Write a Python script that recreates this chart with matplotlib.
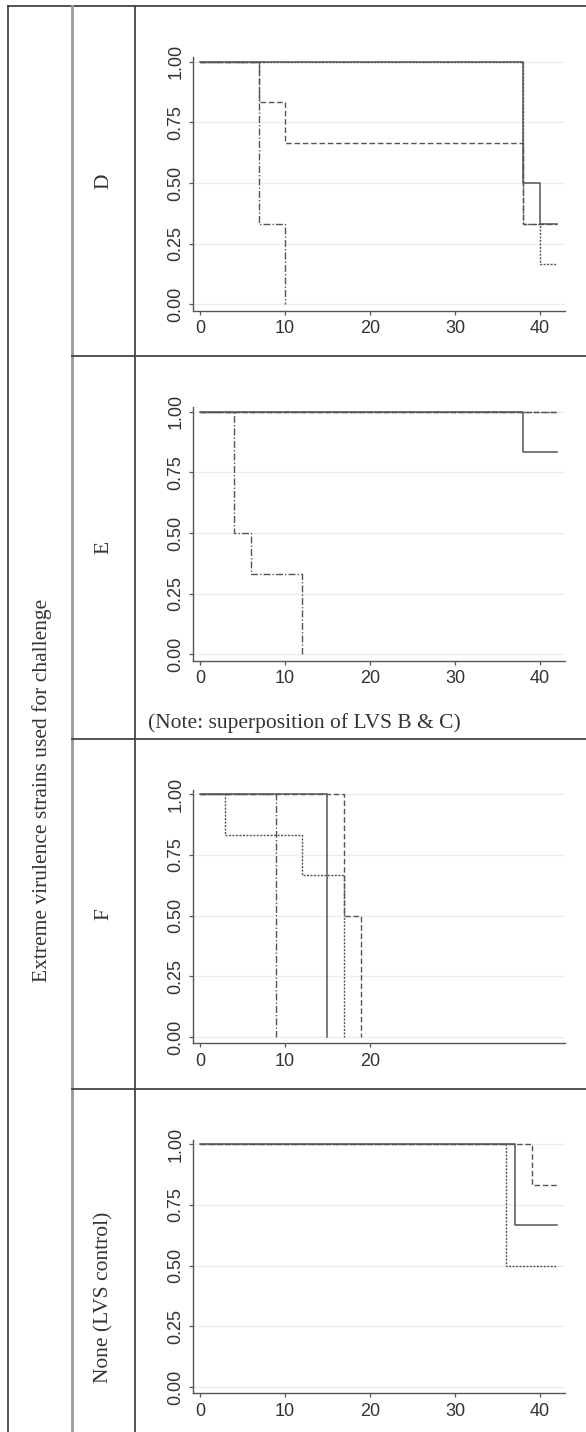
import matplotlib
matplotlib.use("Agg")
import matplotlib.pyplot as plt

# survival data per challenge strain (time in days, survival proportion)
panels = ["D", "E", "F", "None (LVS control)"]

# LVS A (solid)
a_times = [[0, 38, 40, 42], [0, 38, 42], [0, 15], [0, 37, 42]]
a_surv = [[1, 0.5, 0.333, 0.333], [1, 0.833, 0.833], [1, 0], [1, 0.667, 0.667]]

# LVS B (dashed)
b_times = [[0, 7, 10, 38, 42], [0, 42], [0, 17, 19], [0, 39, 42]]
b_surv = [[1, 0.833, 0.667, 0.333, 0.333], [1, 1], [1, 0.5, 0], [1, 0.833, 0.833]]

# LVS C (dotted)
c_times = [[0, 38, 40, 42], [0, 42], [0, 3, 12, 17], [0, 36, 42]]
c_surv = [[1, 0.333, 0.167, 0.167], [1, 1], [1, 0.833, 0.667, 0], [1, 0.5, 0.5]]

# unvaccinated control (dash-dot), not present in the last row
u_times = [[0, 7, 10], [0, 4, 6, 12], [0, 9], None]
u_surv = [[1, 0.333, 0], [1, 0.5, 0.333, 0], [1, 0], None]

x_ticks = [[0, 10, 20, 30, 40], [0, 10, 20, 30, 40], [0, 10, 20], [0, 10, 20, 30, 40]]
y_ticks = [0, 0.25, 0.5, 0.75, 1.0]

W, H = 586, 1432
fig = plt.figure(figsize=(W / 100, H / 100), dpi=100)
fig.patch.set_facecolor("white")

# overlay in pixel coordinates for the table frame and labels
bg = fig.add_axes([0, 0, 1, 1])
bg.set_xlim(0, W)
bg.set_ylim(H, 0)
bg.axis("off")

line_col = "#444444"
bg.plot([8, 8], [6, H], color=line_col, lw=1.3)
bg.plot([8, W], [6, 6], color=line_col, lw=1.3)
bg.plot([72, 72], [6, H], color="#9a9a9a", lw=2.0)
bg.plot([135, 135], [6, H], color=line_col, lw=1.3)
for yy in [356, 739, 1089]:
    bg.plot([72, W], [yy, yy], color=line_col, lw=1.3)

serif = dict(family="Liberation Serif", size=15.5, color="#333333")
bg.text(42, 790, "Extreme virulence strains used for challenge", rotation=90,
        ha="center", va="center", **serif)
label_y = [181, 547, 914, 1297]
for lab, yy in zip(panels, label_y):
    bg.text(104, yy, lab, rotation=90, ha="center", va="center", **serif)
bg.text(148, 723, "(Note: superposition of LVS B & C)", ha="left", va="center", **serif)

# plot axes positions (top pixel of each axes)
tops = [57, 407, 789.5, 1139.5]
ax_h = 253.5
ax_left, ax_w = 193, 372

curve_col = "#555555"
for i in range(4):
    ax = fig.add_axes([ax_left / W, 1 - (tops[i] + ax_h) / H, ax_w / W, ax_h / H])
    ax.set_xlim(-0.82, 42.94)
    ax.set_ylim(-0.025, 1.02)
    for s in ["top", "right"]:
        ax.spines[s].set_visible(False)
    for s in ["left", "bottom"]:
        ax.spines[s].set_color("#555555")
        ax.spines[s].set_linewidth(1.0)
    ax.set_yticks(y_ticks)
    ax.set_yticklabels(["0.00", "0.25", "0.50", "0.75", "1.00"], rotation=90, va="center")
    ax.set_xticks(x_ticks[i])
    ax.tick_params(length=3, width=0.9, color="#555555", labelsize=13,
                   labelcolor="#333333")
    ax.tick_params(axis="x", pad=4)
    ax.tick_params(axis="y", pad=3)
    for t in ax.get_xticklabels() + ax.get_yticklabels():
        t.set_family("Liberation Sans")
    for g in y_ticks:
        ax.axhline(g, color="#e9efef", lw=0.9, zorder=0)

    if u_times[i] is not None:
        ax.step(u_times[i], u_surv[i], where="post", color=curve_col, lw=1.0,
                linestyle=(0, (5, 1.5, 1, 1.5)))
    ax.step(c_times[i], c_surv[i], where="post", color=curve_col, lw=1.0,
            linestyle=(0, (1.5, 1)))
    ax.step(b_times[i], b_surv[i], where="post", color=curve_col, lw=1.0,
            linestyle=(0, (4, 2)))
    ax.step(a_times[i], a_surv[i], where="post", color=curve_col, lw=1.1)

fig.savefig("out.png", dpi=100, facecolor="white")
